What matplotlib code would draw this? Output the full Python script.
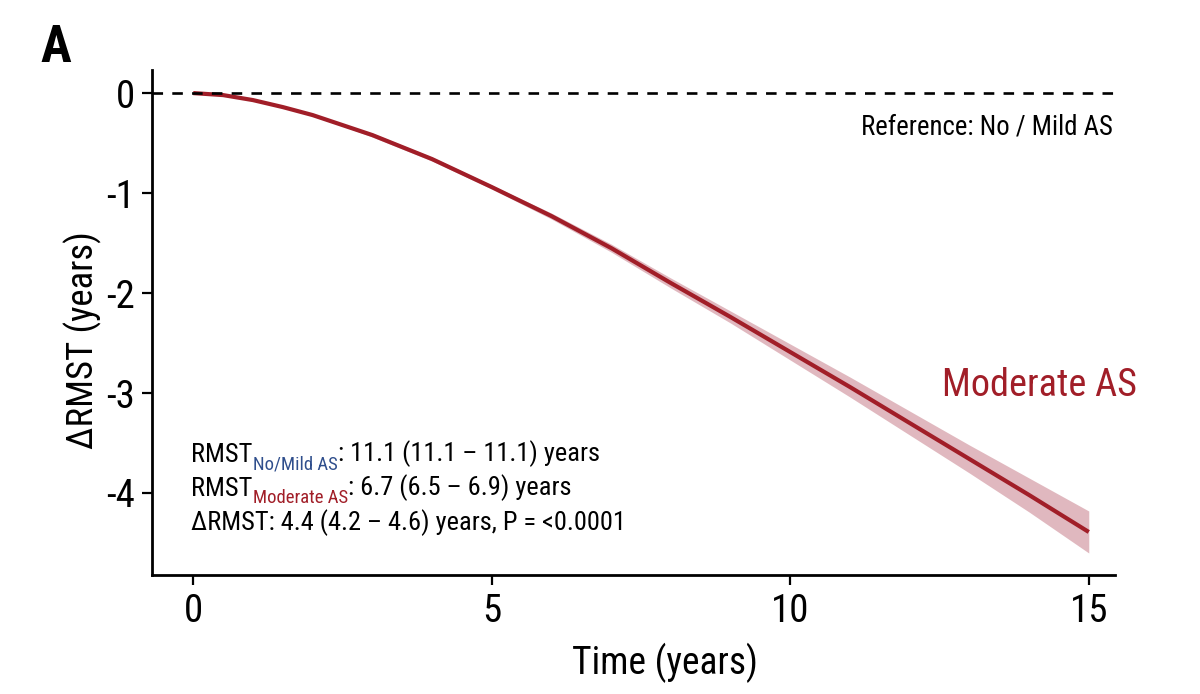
import matplotlib
matplotlib.use("Agg")
import matplotlib.pyplot as plt
from matplotlib import font_manager

# pick a narrow sans if one is installed
installed = {f.name for f in font_manager.fontManager.ttflist}
narrow = None
for name in ['Liberation Sans Narrow', 'Roboto Condensed', 'Open Sans Condensed',
             'Noto Sans Condensed', 'DejaVu Sans Condensed']:
    if name in installed:
        narrow = name
        break
stretch = 'normal'
if narrow is None:
    narrow = 'DejaVu Sans'
    if any(f.name == 'DejaVu Sans' and f.stretch == 'condensed'
           for f in font_manager.fontManager.ttflist):
        stretch = 'condensed'
plt.rcParams['font.family'] = [narrow, 'DejaVu Sans']
plt.rcParams['font.stretch'] = stretch

# delta RMST (moderate AS vs no/mild AS) over time
time_years = [0, 0.5, 1, 1.5, 2, 2.5, 3, 3.5, 4, 4.5, 5, 6, 7, 8, 9, 10, 11, 12, 13, 14, 15]
delta_rmst = [0, -0.02, -0.07, -0.14, -0.22, -0.32, -0.42, -0.54, -0.66, -0.80, -0.94,
              -1.23, -1.55, -1.90, -2.24, -2.59, -2.94, -3.30, -3.66, -4.02, -4.39]
ci_lower = [0, -0.02, -0.07, -0.14, -0.23, -0.33, -0.44, -0.56, -0.68, -0.82, -0.96,
            -1.26, -1.59, -1.95, -2.30, -2.67, -3.04, -3.42, -3.80, -4.19, -4.60]
ci_upper = [0, -0.02, -0.07, -0.14, -0.21, -0.31, -0.40, -0.52, -0.64, -0.78, -0.92,
            -1.20, -1.51, -1.85, -2.18, -2.51, -2.84, -3.18, -3.52, -3.85, -4.18]

x_ticks = [0, 5, 10, 15]
y_ticks = [0, -1, -2, -3, -4]

red = '#A11E28'
band = '#D9A7AF'
blue = '#2F4E8C'

fig = plt.figure(figsize=(12, 6.94), dpi=100)
ax = fig.add_axes([0.1267, 0.1715, 0.8025, 0.7275])

ax.fill_between(time_years, ci_lower, ci_upper, color=band, alpha=0.8, lw=0)
ax.plot(time_years, delta_rmst, color=red, lw=3, solid_capstyle='butt')
ax.axhline(0, color='black', lw=1.9, ls=(0, (4, 3.5)))

ax.set_xlim(-0.69, 15.44)
ax.set_ylim(-4.82, 0.23)
ax.set_xticks(x_ticks)
ax.set_yticks(y_ticks)
ax.set_yticklabels([str(v) for v in y_ticks])
ax.tick_params(labelsize=28, width=1.6, length=7, color='black')
ax.tick_params(axis='x', pad=6)
ax.tick_params(axis='y', pad=5)
for side in ['top', 'right']:
    ax.spines[side].set_visible(False)
for side in ['left', 'bottom']:
    ax.spines[side].set_linewidth(2)

ax.set_xlabel('Time (years)', fontsize=27)
ax.set_ylabel('ΔRMST (years)', fontsize=26.5)
ax.xaxis.set_label_coords(0.533, -0.135)
ax.yaxis.set_label_coords(-0.052, 0.465)

ax.text(15.4, -0.34, 'Reference: No / Mild AS', ha='right', va='center', fontsize=19.3)
ax.text(15.81, -2.92, 'Moderate AS', ha='right', va='center', fontsize=27.5,
        color=red, clip_on=False)

# annotation block with coloured subscripts
fs, sub_fs = 19, 13.5
t1 = ax.text(-0.04, -3.69, 'RMST', fontsize=fs, va='baseline')
s1 = ax.annotate('No/Mild AS', xy=(1, 0), xycoords=t1, xytext=(0.3, -1.5),
                 textcoords='offset points', fontsize=sub_fs, color=blue, va='baseline')
ax.annotate(': 11.1 (11.1 – 11.1) years', xy=(1, 0), xycoords=(s1, t1),
            xytext=(0.3, 0), textcoords='offset points', fontsize=fs, va='bottom')

t2 = ax.text(-0.04, -4.03, 'RMST', fontsize=fs, va='baseline')
s2 = ax.annotate('Moderate AS', xy=(1, 0), xycoords=t2, xytext=(0.3, -1.5),
                 textcoords='offset points', fontsize=sub_fs, color=red, va='baseline')
ax.annotate(': 6.7 (6.5 – 6.9) years', xy=(1, 0), xycoords=(s2, t2),
            xytext=(0.3, 0), textcoords='offset points', fontsize=fs, va='bottom')

ax.text(-0.04, -4.37, 'ΔRMST: 4.4 (4.2 – 4.6) years, P = <0.0001', fontsize=fs,
        va='baseline')

fig.text(40 / 1200, 1 - 62 / 694, 'A', fontsize=37, fontweight='bold', va='baseline')

fig.savefig('out.png', dpi=100)
